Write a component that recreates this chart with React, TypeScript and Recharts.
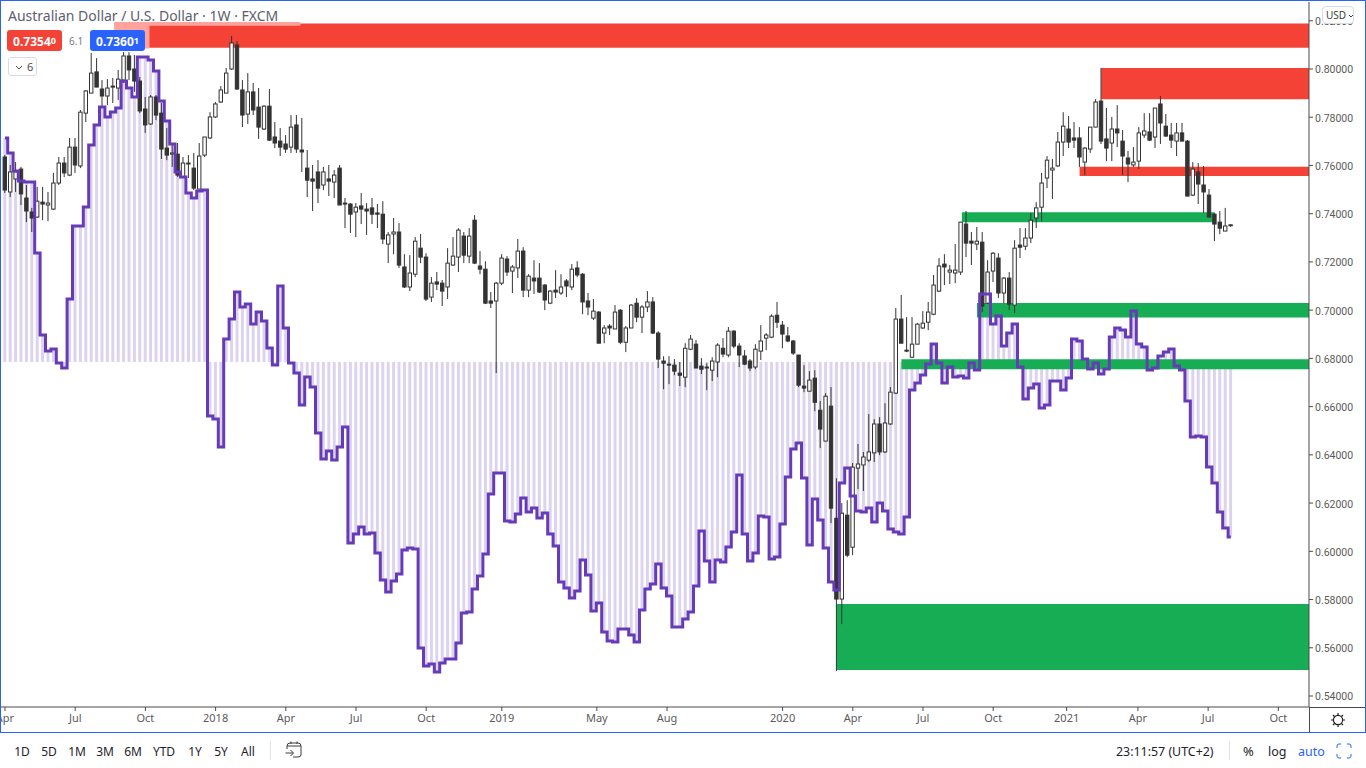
import React from 'react'
import { ComposedChart, Bar, Line, XAxis, YAxis, ReferenceArea } from 'recharts'

// weekly AUD/USD candles, first one is the week of 3 Apr 2017
const opens = [
  .7635, .7490, .7544, .7585, .7465, .7407, .7386, .7448, .7436, .7419, .7527, .7610, .7560, .7676, .7598, .7817, .7900, .7988, .7917, .7888,
  .7929, .7921, .7954, .8054, .8000, .7950, .7834, .7772, .7884, .7817, .7672, .7647, .7647, .7552, .7610, .7589, .7502, .7643, .7714, .7801,
  .7863, .7900, .8000, .8100, .7913, .7813, .7905, .7842, .7751, .7846, .7718, .7701, .7689, .7676, .7768, .7664, .7589, .7544, .7573, .7519,
  .7544, .7531, .7589, .7444, .7440, .7407, .7432, .7419, .7424, .7403, .7398, .7274, .7316, .7324, .7179, .7096, .7149, .7257, .7220, .7054,
  .7117, .7112, .7096, .7187, .7220, .7307, .7224, .7373, .7183, .7170, .7038, .7038, .7112, .7212, .7162, .7175, .7245, .7083, .7133, .7133,
  .7104, .7029, .7083, .7071, .7121, .7096, .7175, .7149, .7038, .6967, .6992, .6905, .6934, .6922, .7000, .6867, .6926, .7029, .6971, .7013,
  .7034, .6905, .6789, .6776, .6772, .6739, .6722, .6838, .6859, .6768, .6760, .6751, .6785, .6842, .6814, .6913, .6851, .6810, .6789, .6764,
  .6830, .6884, .6888, .6979, .6938, .6893, .6872, .6814, .6685, .6664, .6718, .6585, .6457, .6602, .6137, .5802, .6150, .6017, .6345, .6358,
  .6378, .6408, .6528, .6412, .6528, .6656, .6963, .6834, .6805, .6859, .6926, .6950, .6983, .7079, .7191, .7158, .7154, .7158, .7357, .7286,
  .7274, .7282, .7029, .7162, .7216, .7071, .7133, .7021, .7270, .7265, .7299, .7382, .7427, .7548, .7581, .7598, .7697, .7751, .7714, .7714,
  .7614, .7668, .7759, .7867, .7710, .7693, .7751, .7701, .7631, .7602, .7618, .7726, .7739, .7718, .7855, .7763, .7726, .7701, .7735, .7701,
  .7477, .7573, .7519, .7477, .7398, .7365, .7328, .7350,
]
const highs = [
  .7643, .7602, .7614, .7594, .7519, .7424, .7511, .7511, .7490, .7569, .7635, .7635, .7714, .7714, .7830, .7913, .8066, .8045, .7954, .7958,
  .7963, .7996, .8070, .8070, .8058, .7967, .7884, .7892, .7892, .7859, .7755, .7693, .7693, .7635, .7643, .7652, .7693, .7718, .7821, .7863,
  .7929, .8004, .8137, .8116, .7954, .7983, .7942, .7921, .7850, .7917, .7780, .7755, .7726, .7809, .7809, .7797, .7664, .7602, .7622, .7594,
  .7602, .7581, .7602, .7465, .7444, .7444, .7486, .7444, .7465, .7440, .7452, .7324, .7382, .7361, .7232, .7228, .7303, .7316, .7236, .7137,
  .7158, .7125, .7257, .7303, .7340, .7324, .7340, .7394, .7245, .7203, .7075, .7117, .7232, .7224, .7187, .7295, .7261, .7149, .7207, .7195,
  .7108, .7083, .7166, .7149, .7129, .7191, .7203, .7154, .7071, .7046, .6996, .6938, .6942, .7021, .7004, .6934, .7025, .7050, .7021, .7079,
  .7054, .6913, .6809, .6809, .6797, .6785, .6863, .6897, .6876, .6801, .6780, .6805, .6863, .6884, .6930, .6917, .6863, .6834, .6797, .6859,
  .6938, .6905, .6983, .7034, .6955, .6930, .6876, .6814, .6772, .6747, .6751, .6623, .6656, .6681, .6303, .6200, .6212, .6366, .6445, .6412,
  .6569, .6548, .6556, .6614, .6681, .7009, .7063, .6971, .6971, .6946, .6996, .7034, .7146, .7216, .7232, .7187, .7274, .7365, .7411, .7324,
  .7345, .7324, .7207, .7241, .7236, .7137, .7158, .7290, .7340, .7340, .7403, .7448, .7569, .7639, .7627, .7739, .7821, .7805, .7780, .7759,
  .7676, .7759, .7875, .8004, .7838, .7801, .7850, .7747, .7660, .7676, .7759, .7817, .7817, .7838, .7888, .7813, .7776, .7776, .7776, .7705,
  .7614, .7610, .7598, .7502, .7403, .7411, .7424, .7355,
]
const lows = [
  .7486, .7469, .7490, .7436, .7365, .7324, .7382, .7373, .7369, .7415, .7519, .7552, .7556, .7569, .7589, .7780, .7900, .7925, .7842, .7850,
  .7859, .7871, .7942, .7954, .7905, .7817, .7735, .7768, .7788, .7627, .7622, .7594, .7552, .7548, .7548, .7498, .7502, .7635, .7710, .7797,
  .7859, .7900, .7996, .7913, .7759, .7772, .7809, .7710, .7747, .7701, .7672, .7639, .7652, .7652, .7652, .7573, .7469, .7411, .7444, .7498,
  .7473, .7465, .7436, .7340, .7320, .7303, .7357, .7312, .7357, .7340, .7274, .7195, .7232, .7175, .7092, .7079, .7137, .7195, .7038, .7034,
  .7083, .7017, .7046, .7183, .7158, .7195, .7195, .7191, .7149, .7025, .7009, .6739, .7104, .7141, .7071, .7133, .7054, .7054, .7067, .7071,
  .7000, .7025, .7050, .7063, .7054, .7083, .7137, .6983, .6979, .6959, .6863, .6863, .6897, .6922, .6859, .6826, .6926, .6950, .6905, .6992,
  .6901, .6760, .6672, .6693, .6730, .6685, .6681, .6834, .6760, .6735, .6668, .6706, .6722, .6805, .6805, .6842, .6764, .6772, .6747, .6755,
  .6793, .6834, .6884, .6926, .6842, .6867, .6814, .6681, .6660, .6664, .6581, .6428, .6457, .6117, .5503, .5698, .5976, .5984, .6258, .6250,
  .6370, .6370, .6399, .6408, .6524, .6652, .6863, .6826, .6801, .6859, .6922, .6917, .6979, .7075, .7104, .7108, .7112, .7146, .7220, .7187,
  .7249, .6992, .7025, .7117, .7050, .7029, .7000, .6988, .7216, .7249, .7278, .7340, .7369, .7506, .7461, .7594, .7639, .7672, .7672, .7594,
  .7560, .7652, .7759, .7689, .7618, .7618, .7676, .7560, .7531, .7594, .7585, .7714, .7701, .7672, .7689, .7718, .7672, .7639, .7701, .7473,
  .7473, .7440, .7403, .7386, .7286, .7315, .7328, .7346,
]
const closes = [
  .7498, .7573, .7573, .7482, .7411, .7382, .7452, .7440, .7444, .7527, .7610, .7569, .7676, .7602, .7821, .7909, .7983, .7925, .7888, .7921,
  .7925, .7958, .8054, .7996, .7950, .7826, .7768, .7884, .7809, .7668, .7643, .7652, .7560, .7610, .7606, .7506, .7639, .7718, .7801, .7855,
  .7913, .7983, .8108, .7917, .7809, .7905, .7830, .7759, .7846, .7705, .7693, .7676, .7668, .7759, .7668, .7656, .7539, .7535, .7506, .7573,
  .7535, .7560, .7436, .7440, .7398, .7427, .7419, .7411, .7398, .7398, .7295, .7312, .7324, .7187, .7096, .7154, .7286, .7220, .7046, .7112,
  .7108, .7079, .7195, .7224, .7332, .7228, .7307, .7195, .7170, .7029, .7029, .7112, .7216, .7158, .7179, .7245, .7083, .7141, .7121, .7075,
  .7042, .7079, .7075, .7096, .7100, .7170, .7146, .7034, .7013, .6996, .6863, .6926, .6926, .6992, .6867, .6926, .7021, .6971, .7013, .7034,
  .6905, .6797, .6780, .6772, .6747, .6730, .6842, .6880, .6760, .6755, .6764, .6789, .6855, .6818, .6913, .6851, .6814, .6776, .6760, .6838,
  .6872, .6897, .6975, .6950, .6901, .6872, .6822, .6689, .6677, .6710, .6618, .6507, .6643, .6179, .5802, .6158, .5984, .6349, .6362, .6391,
  .6412, .6528, .6412, .6532, .6660, .6963, .6863, .6830, .6859, .6942, .6946, .6992, .7104, .7183, .7179, .7166, .7166, .7365, .7278, .7278,
  .7286, .7017, .7158, .7236, .7071, .7133, .7025, .7257, .7261, .7299, .7373, .7424, .7527, .7622, .7589, .7697, .7763, .7697, .7705, .7635,
  .7672, .7759, .7863, .7701, .7672, .7751, .7735, .7639, .7606, .7614, .7735, .7743, .7705, .7838, .7776, .7722, .7705, .7735, .7701, .7473,
  .7585, .7523, .7490, .7386, .7357, .7340, .7349, .7354,
]

// oscillator plotted on its own hidden scale
const oscValues = [
  224, 209, 191, 181, 180, 180, 109, 27, 11, 13, -1, -6, 63, 136, 136, 155, 217, 237, 255, 245,
  250, 254, 281, 274, 265, 305, 305, 302, 291, 261, 241, 218, 190, 185, 169, 164, 171, 172, -54, -57,
  -85, 23, 43, 70, 55, 58, 38, 50, 41, 14, -3, 76, 34, -1, -11, -43, -15, -25, -71, -97,
  -89, -98, -85, -65, -181, -172, -165, -172, -171, -191, -218, -230, -219, -212, -188, -186, -187, -286, -304, -302,
  -310, -301, -297, -297, -281, -251, -250, -227, -214, -192, -132, -111, -111, -159, -160, -152, -136, -150, -146, -156,
  -151, -172, -184, -220, -226, -236, -229, -198, -213, -249, -241, -270, -279, -280, -267, -267, -273, -280, -248, -227,
  -222, -202, -226, -234, -265, -265, -257, -250, -224, -169, -199, -220, -198, -200, -185, -170, -113, -172, -199, -191,
  -154, -155, -197, -195, -162, -115, -87, -81, -116, -183, -137, -158, -186, -220, -228, -121, -106, -134, -149, -150,
  -146, -160, -141, -149, -167, -170, -172, -155, -28, -21, -13, -2, 18, -1, -21, -5, -15, -14, -16, -1,
  -8, 68, 68, 38, 46, 16, 29, 38, -5, -37, -26, -22, -46, -43, -19, -19, -28, -16, 23, 21,
  3, -7, -1, -12, -7, 25, 34, 32, 25, 51, 18, 15, -8, -6, 6, 10, 13, -4, -8, -39,
  -75, -74, -75, -105, -121, -150, -166, -175,
]

const timeTicks = [0, 13, 26, 39, 52, 65, 78, 92, 109.6, 122.6, 144, 157, 170, 183, 196.6, 209.8, 222.8, 235.8]
const timeLabels = ['Apr', 'Jul', 'Oct', '2018', 'Apr', 'Jul', 'Oct', '2019', 'May', 'Aug', '2020', 'Apr', 'Jul', 'Oct', '2021', 'Apr', 'Jul', 'Oct']
const priceTicks = [0.54, 0.56, 0.58, 0.6, 0.62, 0.64, 0.66, 0.68, 0.7, 0.72, 0.74, 0.76, 0.78, 0.8, 0.82]

const X_MIN = -0.74
const X_MAX = 241.48

const RED = '#f44336'
const GREEN = '#16ad54'
const PINK = '#ffa39c'

// supply / demand boxes: first week, last week, top price, bottom price
const zones: [number, number, number, number, string][] = [
  [26.7, X_MAX, 0.8189, 0.8088, RED],
  [20.2, 26.7, 0.8195, 0.8085, PINK],
  [26.7, 54.7, 0.8195, 0.8179, PINK],
  [203, X_MAX, 0.8004, 0.7875, RED],
  [199, X_MAX, 0.7595, 0.7556, RED],
  [177.2, 224, 0.7406, 0.7364, GREEN],
  [180, X_MAX, 0.703, 0.697, GREEN],
  [166, X_MAX, 0.6796, 0.6755, GREEN],
  [154, X_MAX, 0.5782, 0.5508, GREEN],
]

const rangeButtons = [['1D', 22], ['5D', 49], ['1M', 77], ['3M', 105], ['6M', 133], ['YTD', 164], ['1Y', 195], ['5Y', 221], ['All', 248]]

const rows = opens.map((open, i) => ({
  i,
  open,
  high: highs[i],
  low: lows[i],
  close: closes[i],
  osc: oscValues[i],
}))

const DARK = '#333333'
const UI_FONT = '"Noto Sans", sans-serif'

const Candle = (props: any) => {
  const { x, y, width, height, payload } = props
  const { open, high, low, close } = payload
  const unit = height / (high - low)
  const yOf = (p: number) => y + (high - p) * unit
  const cx = x + width / 2
  const top = yOf(Math.max(open, close))
  const bottom = yOf(Math.min(open, close))
  const up = close >= open
  return (
    <g>
      <line x1={cx} x2={cx} y1={y} y2={y + height} stroke={DARK} strokeWidth={1} />
      <rect
        x={cx - 1.7}
        y={top}
        width={3.4}
        height={Math.max(bottom - top, 0.5)}
        fill={up ? '#ffffff' : DARK}
        stroke={DARK}
        strokeWidth={1}
      />
    </g>
  )
}

const label = (left: number, top: number, extra: React.CSSProperties = {}): React.CSSProperties => ({
  position: 'absolute',
  left,
  top,
  fontFamily: UI_FONT,
  whiteSpace: 'nowrap',
  ...extra,
})

const smallDigit: React.CSSProperties = { fontSize: 9, verticalAlign: '2px' }

export default function App() {
  return (
    <div style={{ position: 'absolute', left: 0, top: 0, width: 1366, height: 768, background: '#fff', overflow: 'hidden' }}>
      <ComposedChart width={1366} height={733} data={rows} margin={{ top: 2, right: 0, bottom: 0, left: 1 }}>
        <XAxis
          dataKey="i"
          type="number"
          domain={[X_MIN, X_MAX]}
          allowDataOverflow
          ticks={timeTicks}
          interval={0}
          height={26}
          tickSize={4}
          tickMargin={3}
          tickFormatter={(v: number) => timeLabels[timeTicks.indexOf(v)]}
          tick={{ fontSize: 11, fill: '#5a5a5a', fontFamily: UI_FONT }}
          stroke="#4a4a4a"
        />
        {/* second x axis so the histogram and candle bars are not laid side by side */}
        <XAxis xAxisId="hist" dataKey="i" type="number" domain={[X_MIN, X_MAX]} allowDataOverflow hide />
        <YAxis
          yAxisId="price"
          orientation="right"
          width={57}
          domain={[0.53544, 0.82778]}
          allowDataOverflow
          ticks={priceTicks}
          interval={0}
          tickSize={4}
          tickFormatter={(v: number) => v.toFixed(5)}
          tick={{ fontSize: 10.5, fill: '#5a5a5a', fontFamily: 'Roboto, sans-serif', dy: 0.7 }}
          stroke="#4a4a4a"
        />
        <YAxis yAxisId="osc" hide domain={[-345, 360]} allowDataOverflow />

        <Bar xAxisId="hist" yAxisId="osc" dataKey="osc" barSize={3} fill="#dcd4ee" isAnimationActive={false} zIndex={50} />

        {zones.map(([x1, x2, y1, y2, fill], idx) => (
          <ReferenceArea
            key={idx}
            yAxisId="price"
            x1={x1}
            x2={x2}
            y1={y1}
            y2={y2}
            fill={fill}
            fillOpacity={1}
            stroke="none"
            zIndex={100}
          />
        ))}

        <Bar
          yAxisId="price"
          dataKey={(d: any) => [d.low, d.high]}
          barSize={5}
          shape={<Candle />}
          isAnimationActive={false}
          zIndex={300}
        />
        <Line
          yAxisId="osc"
          dataKey="osc"
          type="step"
          stroke="#673ab7"
          strokeWidth={3}
          dot={false}
          isAnimationActive={false}
          zIndex={400}
        />
      </ComposedChart>

      {/* frame and axis corner */}
      <div style={{ position: 'absolute', left: 0, top: 0, width: 1366, height: 733, boxSizing: 'border-box', border: '1px solid #2962ff', pointerEvents: 'none' }} />
      <div style={{ position: 'absolute', left: 1309, top: 707, width: 56, height: 1, background: '#4a4a4a' }} />
      <div style={{ position: 'absolute', left: 1309, top: 707, width: 1, height: 25, background: '#4a4a4a' }} />

      {/* legend */}
      <div style={label(8, 6, { fontSize: 14, color: '#5d606b' })}>Australian Dollar / U.S. Dollar · 1W · FXCM</div>
      <div style={label(7, 30, { width: 55, height: 21, lineHeight: '21px', background: RED, color: '#fff', borderRadius: 3, textAlign: 'center', fontSize: 12, fontWeight: 700 })}>
        0.7354<span style={smallDigit}>0</span>
      </div>
      <div style={label(69, 34, { fontSize: 10, color: '#787b86' })}>6.1</div>
      <div style={label(90, 30, { width: 55, height: 21, lineHeight: '21px', background: '#2962ff', color: '#fff', borderRadius: 3, textAlign: 'center', fontSize: 12, fontWeight: 700 })}>
        0.7360<span style={smallDigit}>1</span>
      </div>
      <div style={label(8, 57, { width: 29, height: 19, boxSizing: 'border-box', border: '1px solid #d8dbe4', borderRadius: 3, background: '#fff', fontSize: 11, color: '#4a4a4a', lineHeight: '17px', paddingLeft: 6 })}>
        <svg width="8" height="6" style={{ marginRight: 4 }}>
          <path d="M1 1 L4 4 L7 1" fill="none" stroke="#4a4a4a" strokeWidth="1" />
        </svg>
        6
      </div>

      {/* currency button */}
      <div style={label(1322, 6, { width: 32, height: 18, boxSizing: 'border-box', border: '1px solid #d8dbe4', borderRadius: 4, background: '#fff', fontSize: 10, color: '#3c3c3c', lineHeight: '16px', paddingLeft: 3 })}>
        USD
        <svg width="6" height="5" style={{ marginLeft: 2 }}>
          <path d="M1 1 L3 3 L5 1" fill="none" stroke="#3c3c3c" strokeWidth="1" />
        </svg>
      </div>

      {/* settings gear */}
      <svg width="16" height="16" style={{ position: 'absolute', left: 1330, top: 712 }}>
        <circle cx="8" cy="8" r="4.6" fill="none" stroke="#222" strokeWidth="1.2" />
        <path d="M8 1 V3 M8 13 V15 M1 8 H3 M13 8 H15 M3 3 L4.5 4.5 M11.5 11.5 L13 13 M13 3 L11.5 4.5 M3 13 L4.5 11.5" stroke="#222" strokeWidth="1.2" />
      </svg>

      {/* bottom toolbar */}
      {rangeButtons.map(([text, cx]) => (
        <div key={text as string} style={label((cx as number) - 20, 743, { width: 40, textAlign: 'center', fontSize: 12, color: '#1e222d' })}>
          {text}
        </div>
      ))}
      <div style={{ position: 'absolute', left: 270, top: 741, width: 1, height: 19, background: '#dfe1e8' }} />
      <svg width="18" height="18" style={{ position: 'absolute', left: 285, top: 741 }}>
        <path d="M2 5 Q2 2 5 2 H13 Q16 2 16 5 V14 Q16 16 13 16 H8 M2 5 H16 M2 5 V8 M6 0.5 V3 M12 0.5 V3 M0.5 12 H8 M5.5 9 L8.5 12 L5.5 15" fill="none" stroke="#3c3c3c" strokeWidth="1" />
      </svg>
      <div style={label(1116, 743, { fontSize: 12.4, color: '#1e222d' })}>23:11:57 (UTC+2)</div>
      <div style={{ position: 'absolute', left: 1229, top: 741, width: 1, height: 19, background: '#dfe1e8' }} />
      <div style={label(1243, 742, { fontSize: 13, color: '#1e222d' })}>%</div>
      <div style={label(1268, 743, { fontSize: 12.5, color: '#1e222d' })}>log</div>
      <div style={label(1298, 743, { fontSize: 12.5, color: '#2962ff' })}>auto</div>
      <svg width="16" height="16" style={{ position: 'absolute', left: 1336, top: 743 }}>
        <path d="M1 5 V3 Q1 1 3 1 H5 M11 1 H13 Q15 1 15 3 V5 M15 11 V13 Q15 15 13 15 H11 M5 15 H3 Q1 15 1 13 V11" fill="none" stroke="#2962ff" strokeWidth="1" />
      </svg>
    </div>
  )
}
